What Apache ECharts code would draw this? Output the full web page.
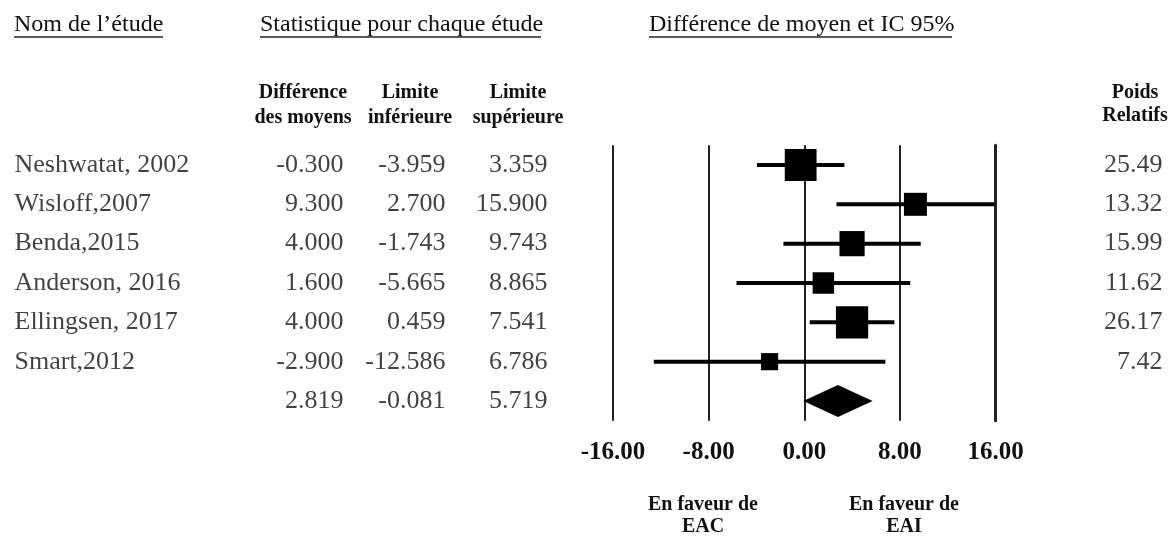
<!DOCTYPE html>
<html>
<head>
<meta charset="utf-8">
<script src="https://cdn.jsdelivr.net/npm/echarts@6/dist/echarts.min.js"></script>
<style>
html, body {margin: 0; padding: 0; background: #fff;}
#main {width: 1173px; height: 537px;}
</style>
</head>
<body>
<div id="main"></div>
<script>
var studies = ["Neshwatat, 2002", "Wisloff,2007", "Benda,2015", "Anderson, 2016", "Ellingsen, 2017", "Smart,2012"];
var meanDiff = [-0.300, 9.300, 4.000, 1.600, 4.000, -2.900];
var lowerCI = [-3.959, 2.700, -1.743, -5.665, 0.459, -12.586];
var upperCI = [3.359, 15.900, 9.743, 8.865, 7.541, 6.786];
var weights = [25.49, 13.32, 15.99, 11.62, 26.17, 7.42];
var summary = [2.819, -0.081, 5.719]; // moyenne, inf, sup
var xTicks = [-16, -8, 0, 8, 16];

var serif = "Liberation Serif";
var ink = "#111";

var rows = studies.map(function (s, i) { return i + 1; });
var sumRow = studies.length + 1;

// lignes IC
var ciData = rows.map(function (r, i) { return [lowerCI[i], upperCI[i], r]; });
// carrés
var sqData = rows.map(function (r, i) { return [meanDiff[i], r, weights[i]]; });

// colonnes de texte (grille 2, x en pixels)
function textCol(x, values, fmt, pos, extraRow) {
	var d = values.map(function (v, i) { return {value: [x, i + 1], txt: fmt(v)}; });
	if (extraRow !== undefined) d.push({value: [x, sumRow], txt: fmt(extraRow)});
	return {
		type: "scatter", xAxisIndex: 1, yAxisIndex: 1, symbolSize: 1,
		itemStyle: {color: "rgba(0,0,0,0)"}, silent: true,
		data: d,
		label: {
			show: true, position: pos, distance: 0, color: ink,
			fontFamily: serif, fontSize: 26,
			formatter: function (p) { return p.data.txt; }
		}
	};
}
function f3(v) { return v.toFixed(3); }
function f2(v) { return v.toFixed(2); }

var chart = echarts.init(document.getElementById("main"));

var option = {
	backgroundColor: "#fff",
	animation: false,
	grid: [
		{left: 613, right: 177.5, top: 145.3, bottom: 116.3},
		{left: 0, right: 0, top: 145.3, bottom: 116.3}
	],
	xAxis: [{
		type: "value", min: xTicks[0], max: xTicks[xTicks.length - 1], interval: 8, gridIndex: 0,
		axisLine: {show: false}, axisTick: {show: false},
		splitLine: {show: true, lineStyle: {color: "#222", width: 2}},
		axisLabel: {
			show: true, margin: 19, color: ink, fontFamily: serif, fontWeight: "bold", fontSize: 25,
			showMinLabel: true, showMaxLabel: true,
			formatter: function (v) { return v.toFixed(2); }
		}
	}, {
		type: "value", min: 0, max: 1173, gridIndex: 1, show: false
	}],
	yAxis: [{
		type: "value", min: 0.5, max: 7.5, inverse: true, gridIndex: 0, position: "right",
		axisLine: {show: true, onZero: false, lineStyle: {color: "#222", width: 3}},
		axisTick: {show: false}, axisLabel: {show: false}, splitLine: {show: false}
	}, {
		type: "value", min: 0.5, max: 7.5, inverse: true, gridIndex: 1, show: false
	}],
	series: [{
		type: "custom", xAxisIndex: 0, yAxisIndex: 0, silent: true,
		data: ciData,
		renderItem: function (params, api) {
			var a = api.coord([api.value(0), api.value(2)]);
			var b = api.coord([api.value(1), api.value(2)]);
			return {type: "line", shape: {x1: a[0], y1: a[1], x2: b[0], y2: b[1]}, style: {stroke: "#000", lineWidth: 4}};
		}
	}, {
		type: "scatter", xAxisIndex: 0, yAxisIndex: 0, silent: true,
		symbol: "rect",
		symbolSize: function (v) { return 6.3 * Math.sqrt(v[2]); },
		itemStyle: {color: "#000", opacity: 1},
		data: sqData
	}, {
		type: "custom", xAxisIndex: 0, yAxisIndex: 0, silent: true,
		data: [[summary[0], summary[1], summary[2], sumRow]],
		renderItem: function (params, api) {
			var r = api.value(3);
			var l = api.coord([api.value(1), r]);
			var c = api.coord([api.value(0), r]);
			var h = api.coord([api.value(2), r]);
			return {
				type: "polygon",
				shape: {points: [[l[0], l[1]], [c[0], c[1] - 16], [h[0], h[1]], [c[0], c[1] + 16]]},
				style: {fill: "#000"}
			};
		}
	},
		textCol(14, studies, function (s) { return s; }, "right"),
		textCol(344, meanDiff, f3, "left", summary[0]),
		textCol(446, lowerCI, f3, "left", summary[1]),
		textCol(548, upperCI, f3, "left", summary[2]),
		textCol(1163, weights, f2, "left")
	],
	graphic: [
		{type: "text", left: 14, top: 13, style: {text: "Nom de l\u2019\u00e9tude", font: "24px " + serif, fill: ink}},
		{type: "text", left: 260, top: 13, style: {text: "Statistique pour chaque \u00e9tude", font: "24px " + serif, fill: ink}},
		{type: "text", left: 649, top: 13, style: {text: "Diff\u00e9rence de moyen et IC 95%", font: "24px " + serif, fill: ink}},
		{type: "line", shape: {x1: 14, y1: 37, x2: 163, y2: 37}, style: {stroke: "#222", lineWidth: 1.5}},
		{type: "line", shape: {x1: 260, y1: 37, x2: 541, y2: 37}, style: {stroke: "#222", lineWidth: 1.5}},
		{type: "line", shape: {x1: 649, y1: 37, x2: 952, y2: 37}, style: {stroke: "#222", lineWidth: 1.5}},
		{type: "text", x: 303, y: 105, style: {text: "Diff\u00e9rence\ndes moyens", font: "bold 20px " + serif, fill: ink, align: "center", verticalAlign: "middle", lineHeight: 25}},
		{type: "text", x: 410, y: 105, style: {text: "Limite\ninf\u00e9rieure", font: "bold 20px " + serif, fill: ink, align: "center", verticalAlign: "middle", lineHeight: 25}},
		{type: "text", x: 518, y: 105, style: {text: "Limite\nsup\u00e9rieure", font: "bold 20px " + serif, fill: ink, align: "center", verticalAlign: "middle", lineHeight: 25}},
		{type: "text", x: 1135, y: 104, style: {text: "Poids\nRelatifs", font: "bold 20px " + serif, fill: ink, align: "center", verticalAlign: "middle", lineHeight: 23}},
		{type: "text", x: 703, y: 516, style: {text: "En faveur de\nEAC", font: "bold 20px " + serif, fill: ink, align: "center", verticalAlign: "middle", lineHeight: 22}},
		{type: "text", x: 904, y: 516, style: {text: "En faveur de\nEAI", font: "bold 20px " + serif, fill: ink, align: "center", verticalAlign: "middle", lineHeight: 22}}
	]
};
chart.setOption(option);
</script>
</body>
</html>
